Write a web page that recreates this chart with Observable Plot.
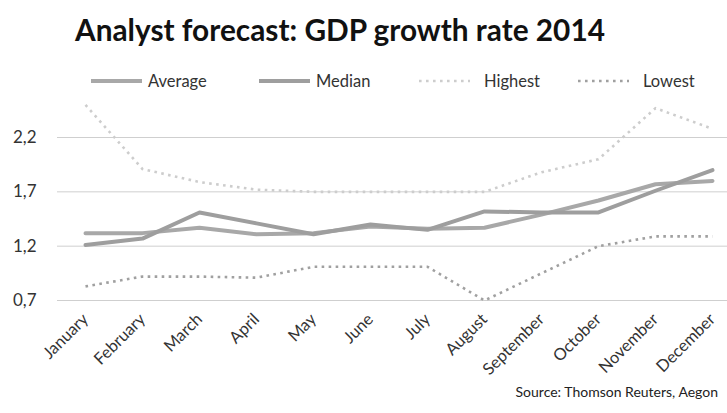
<!DOCTYPE html>
<html>
<head>
<meta charset="utf-8">
<script src="https://cdn.jsdelivr.net/npm/d3@7"></script>
<script src="https://cdn.jsdelivr.net/npm/@observablehq/plot@0.6"></script>
<style>
  html, body { margin: 0; padding: 0; background: #fff; }
  #wrap { position: relative; width: 727px; height: 413px; overflow: hidden; font-family: Lato, "Open Sans", sans-serif; color: #222; }
  #title { position: absolute; left: 75px; top: 12px; font-size: 29.8px; font-weight: bold; line-height: 36px; color: #111; white-space: nowrap; }
  #legend { position: absolute; left: 0; top: 68px; width: 727px; height: 26px; }
  .item { position: absolute; top: 0; height: 26px; display: flex; align-items: center; font-size: 16.5px; color: #333; }
  .item svg { margin-right: 5px; }
  #chart { position: absolute; left: 0; top: 95px; }
  #source { position: absolute; right: 9px; top: 383px; font-size: 14px; color: #222; white-space: nowrap; }
</style>
</head>
<body>
<div id="wrap">
  <div id="title">Analyst forecast: GDP growth rate 2014</div>
  <div id="legend"></div>
  <div id="chart"></div>
  <div id="source">Source: Thomson Reuters, Aegon</div>
</div>
<script>
const months = ["January","February","March","April","May","June","July","August","September","October","November","December"];
const average = [1.32,1.32,1.37,1.31,1.32,1.38,1.36,1.37,1.49,1.62,1.77,1.80];
const median  = [1.21,1.27,1.51,1.41,1.31,1.40,1.35,1.52,1.51,1.51,1.71,1.90];
const highest = [2.50,1.91,1.79,1.72,1.70,1.70,1.70,1.70,1.88,2.00,2.47,2.28];
const lowest  = [0.83,0.92,0.92,0.91,1.01,1.01,1.01,0.70,0.95,1.20,1.29,1.29];
const yTicks = [0.7,1.2,1.7,2.2];
const seriesNames = ["Average","Median","Highest","Lowest"];

const styles = {
  Average: {stroke: "#a8a8a8", strokeWidth: 4, dash: null},
  Median:  {stroke: "#9e9e9e", strokeWidth: 4, dash: null},
  Highest: {stroke: "#cdcdcd", strokeWidth: 2.6, dash: "2.6,4.4"},
  Lowest:  {stroke: "#a0a0a0", strokeWidth: 2.6, dash: "2.6,4.4"}
};

const seriesValues = {Average: average, Median: median, Highest: highest, Lowest: lowest};
const rows = seriesNames.flatMap(s => months.map((m, i) => ({series: s, month: m, value: seriesValues[s][i]})));

// legend
const legendPos = {Average: 90, Median: 258, Highest: 418, Lowest: 577};
const legend = document.getElementById("legend");
for (const s of seriesNames) {
  const st = styles[s];
  const dotted = !!st.dash;
  const div = document.createElement("div");
  div.className = "item";
  div.style.left = legendPos[s] + "px";
  div.innerHTML = `<svg width="53" height="10"><line x1="1" x2="52" y1="5" y2="5" stroke="${st.stroke}" stroke-width="${st.strokeWidth}" ${dotted ? `stroke-dasharray="${st.dash}"` : ""}/></svg><span${dotted ? ' style="margin-left:8px"' : ''}>${s}</span>`;
  legend.appendChild(div);
}

const fmt = d => d.toFixed(1).replace(".", ",");

const marks = [
  Plot.gridY(yTicks, {stroke: "#cfcfcf", strokeOpacity: 1, strokeWidth: 1})
];
for (const s of seriesNames) {
  const st = styles[s];
  marks.push(Plot.line(rows.filter(r => r.series === s), {
    x: "month", y: "value",
    stroke: st.stroke, strokeWidth: st.strokeWidth,
    strokeDasharray: st.dash || undefined,
    strokeLinejoin: "round", strokeLinecap: st.dash ? "butt" : "round"
  }));
}
marks.push(Plot.axisY(yTicks, {tickSize: 0, tickPadding: 21, tickFormat: fmt, fontSize: 17, fill: "#333"}));
marks.push(Plot.axisX({tickSize: 0, tickRotate: -45, tickPadding: 11, fontSize: 16.5, fill: "#333"}));

const chart = Plot.plot({
  width: 727,
  height: 290,
  marginLeft: 57,
  marginRight: 0,
  marginTop: 0,
  marginBottom: 80,
  style: {fontFamily: "Lato, 'Open Sans', sans-serif", background: "transparent"},
  x: {type: "point", domain: months, range: [83, 713], padding: 0, label: null},
  y: {domain: [0.7, 2.2], range: [205, 42], label: null},
  marks
});
document.getElementById("chart").appendChild(chart);
</script>
</body>
</html>
